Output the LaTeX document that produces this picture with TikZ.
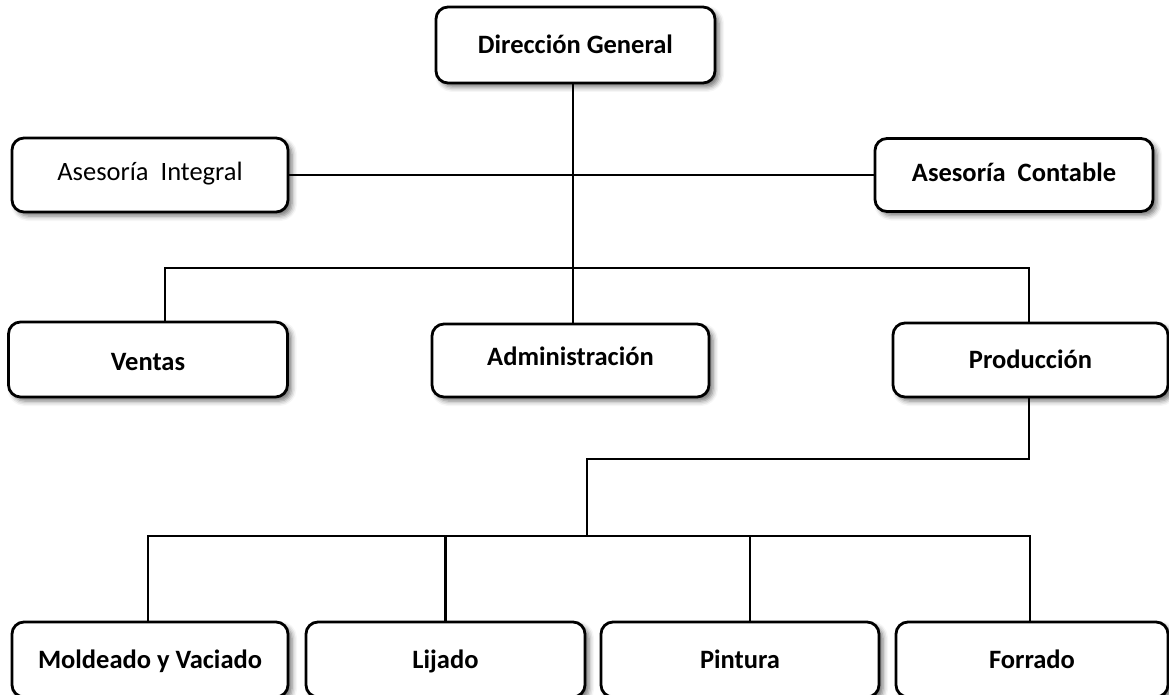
\documentclass[tikz,border=0pt]{standalone}
\usepackage{fontspec}
\setmainfont{Carlito}
\usetikzlibrary{shadows.blur}

\begin{document}
\begin{tikzpicture}[x=1pt,y=-1pt,
  box/.style={draw=black, line width=2.8pt, rounded corners=12pt, fill=white,
    minimum width=#1, minimum height=74pt, inner sep=0pt,
    text height=17pt, text depth=0pt,
    font=\fontsize{26.5}{32}\selectfont\bfseries,
    blur shadow={shadow xshift=4pt, shadow yshift=-4pt,
      shadow blur radius=5pt, shadow opacity=55}},
  box/.default=278pt,
  plain/.style={font=\fontsize{26.5}{32}\selectfont\mdseries},
  link/.style={draw=black, line width=2.8pt}
]
\useasboundingbox (0,0) rectangle (1169,695);

% top level
\node[box=279pt, minimum height=76pt] (dg) at (575.5,45) {Dirección General};

% staff units
\node[box=276pt, plain, text depth=6pt] (ai) at (150,175) {Asesoría\ \ Integral};
\node[box=278pt, minimum height=73pt, text depth=4pt] (ac) at (1014,175) {Asesoría\ \ Contable};

% departments
\node[box=279pt, minimum height=75pt, text height=21pt] (ven) at (148,359.5) {Ventas};
\node[box=277pt, minimum height=73pt, text depth=7pt] (adm) at (570.5,360.5) {Administración};
\node[box=275pt] (pro) at (1030.5,360) {Producción};

% production areas
\node[box=276pt, minimum height=75pt] (mol) at (150,659.5) {Moldeado y Vaciado};
\node[box=279pt, minimum height=75pt] (lij) at (445.5,659.5) {Lijado};
\node[box=278pt, minimum height=75pt] (pin) at (740,659.5) {Pintura};
\node[box=272pt, minimum height=75pt] (for) at (1032,659.5) {Forrado};

% junction points
\coordinate (hub) at (573,268);
\coordinate (lk) at (165,268);
\coordinate (rk) at (1029,268);
\coordinate (pj) at (1029,459);
\coordinate (pm) at (587,459);
\coordinate (pb) at (587,536);
\coordinate (bl) at (148,536);
\coordinate (br) at (1030,536);
\coordinate (pv) at (750,536);

% connectors
\draw[link] (dg.south -| hub) -- (hub);
\draw[link] (ai.east) -- (ac.west);
\draw[link] (ven.north -| lk) -- (lk) -- (rk) -- (pro.north -| rk);
\draw[link] (hub) -- (adm.north -| hub);
\draw[link] (pro.south -| pj) -- (pj) -- (pm) -- (pb);
\draw[link] (mol.north -| bl) -- (bl) -- (br) -- (for.north -| br);
\draw[link] (lij.north) -- (lij.north |- bl);
\draw[link] (pv) -- (pin.north -| pv);
\end{tikzpicture}
\end{document}
